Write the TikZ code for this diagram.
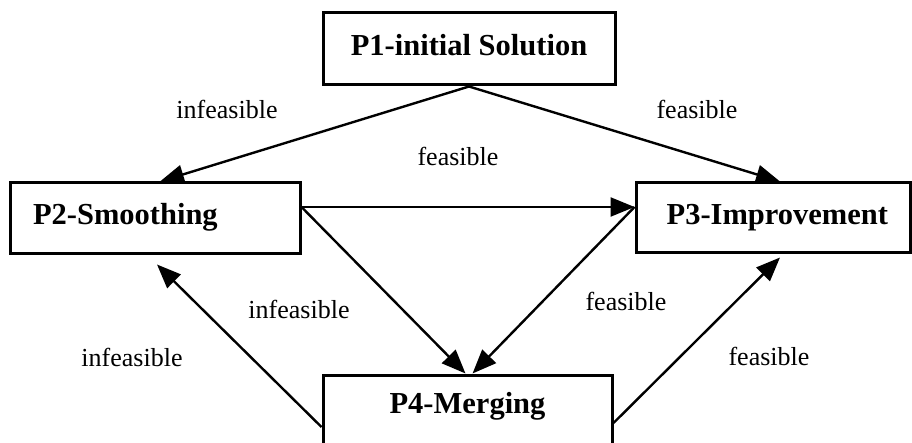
\documentclass[tikz,border=0pt]{standalone}
\usepackage{fontspec}
\setmainfont{Liberation Serif}
\usetikzlibrary{arrows.meta}
\begin{document}
\begin{tikzpicture}[x=1pt,y=-1pt,
  box/.style={draw, line width=3pt, rectangle, inner sep=0pt,
    font=\fontsize{30.5}{33}\selectfont\bfseries, text height=20pt, text depth=7pt},
  conn/.style={line width=2.4pt, -{Triangle[length=24pt,width=19pt]}},
  lbl/.style={font=\fontsize{26}{28}\selectfont, anchor=base, inner sep=0pt}]
\useasboundingbox (0,0) rectangle (912,443);
\clip (0,0) rectangle (912,443);
\fill[white] (0,0) rectangle (912,443);
\node[box, minimum width=292pt, minimum height=72pt] (p1) at (469,49) {P1-initial Solution};
\node[box, minimum width=290pt, minimum height=71pt, text width=244pt, inner xsep=23pt, align=left] (p2) at (155,218.5) {P2-Smoothing};
\node[box, minimum width=274pt, minimum height=70pt, text width=230pt, inner xsep=22pt, align=right] (p3) at (773,218) {P3-Improvement};
\node[box, minimum width=289pt, minimum height=74pt, text depth=18pt] (p4) at (467.5,412) {P4-Merging};

\draw[conn] (p1.south) -- ([xshift=5pt]p2.north);
\draw[conn] (p1.south) -- ([xshift=7pt]p3.north);
\draw[conn] ([yshift=11.5pt]p2.east) -- ([yshift=11pt]p3.west);
\draw[conn] ([yshift=11.5pt]p2.east) -- ([xshift=-2pt]p4.north);
\draw[conn] ([yshift=11pt]p3.west) -- ([xshift=5pt]p4.north);
\draw[conn] ([yshift=-15pt]p4.west) -- ([xshift=2pt,yshift=-9pt]p2.south);
\draw[conn] ([yshift=-11pt]p4.east) -- ([xshift=7pt,yshift=-3pt]p3.south);

\node[lbl] (l1) at (227,119) {infeasible};
\node[lbl] (l2) at (697,119) {feasible};
\node[lbl] (l3) at (458,166) {feasible};
\node[lbl] (l4) at (299,318) {infeasible};
\node[lbl] (l5) at (626,310) {feasible};
\node[lbl] (l6) at (132,366) {infeasible};
\node[lbl] (l7) at (769,365) {feasible};
\end{tikzpicture}
\end{document}
